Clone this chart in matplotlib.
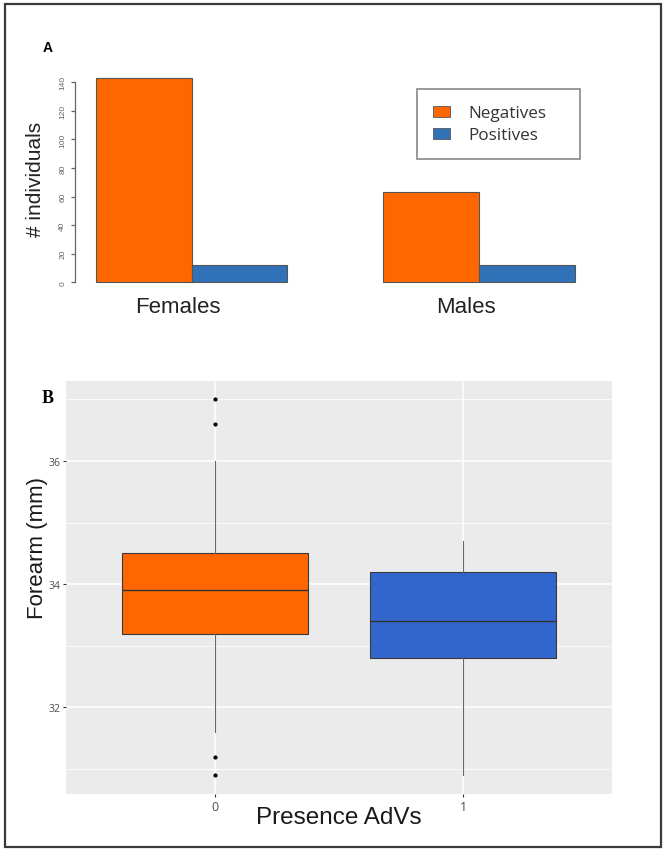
import numpy as np
import matplotlib
matplotlib.use("Agg")
import matplotlib.pyplot as plt
from matplotlib.patches import Rectangle, Patch

# ---------------- data ----------------
groups = ["Females", "Males"]
negatives = [143, 63]
positives = [12, 12]
series_labels = ["Negatives", "Positives"]

adv_levels = ["0", "1"]
box_q1 = [33.2, 32.8]
box_med = [33.9, 33.4]
box_q3 = [34.5, 34.2]
box_whislo = [31.6, 30.9]
box_whishi = [36.0, 34.7]
box_fliers = [[37.0, 36.6, 31.2, 30.9], []]

top_yticks = [0, 20, 40, 60, 80, 100, 120, 140]
bot_yticks = [32, 34, 36]
bot_yminor = [31, 33, 35, 37]

# ---------------- styles ----------------
ORANGE = "#FF6600"
BLUE_TOP = "#2F72B8"
BLUE_BOT = "#3366CC"
W, H = 666, 853
DPI = 100

fig = plt.figure(figsize=(W / DPI, H / DPI), dpi=DPI)
fig.patch.set_facecolor("white")

def fx(px):
    return px / W

def fy(py):
    return 1 - py / H

# outer frame
fig.patches.append(Rectangle((fx(4.5), fy(848)), fx(661) - fx(4.5), fy(4.5) - fy(848),
                             transform=fig.transFigure, fill=False,
                             edgecolor="#3a3a3a", linewidth=1.6, zorder=10))

# ---------------- panel A ----------------
axA = fig.add_axes([fx(76.9), fy(291.5), fx(593.7) - fx(76.9), fy(70.8) - fy(291.5)])
left = np.arange(len(groups)) * 3 + 1
axA.bar(left, negatives, width=1, align="edge", color=ORANGE,
        edgecolor="#555555", linewidth=0.8, label=series_labels[0])
axA.bar(left + 1, positives, width=1, align="edge", color=BLUE_TOP,
        edgecolor="#555555", linewidth=0.8, label=series_labels[1])
axA.set_xlim(0.8, 6.2)
axA.set_ylim(-5.72, 148.72)
for s in ["top", "right", "bottom"]:
    axA.spines[s].set_visible(False)
axA.spines["left"].set_bounds(0, 140)
axA.spines["left"].set_position(("outward", 1.5))
axA.spines["left"].set_color("#666666")
axA.spines["left"].set_linewidth(0.9)
axA.set_yticks(top_yticks)
axA.set_yticklabels([str(v) for v in top_yticks], rotation=90, va="center",
                    fontsize=6, color="#666666", family="Liberation Sans")
axA.tick_params(axis="y", length=3.2, width=0.9, color="#666666", pad=3)
axA.set_xticks(left + 0.86)
axA.set_xticklabels(groups, fontsize=16, family="Liberation Sans", color="#222222")
axA.tick_params(axis="x", length=0, pad=4)
axA.set_ylabel("# individuals", fontsize=15, family="Liberation Sans", va="center",
               color="#222222")
axA.yaxis.set_label_coords(-0.081, 0.51)

handles = [Patch(facecolor=ORANGE, edgecolor="#555555", linewidth=0.6),
           Patch(facecolor=BLUE_TOP, edgecolor="#555555", linewidth=0.6)]
leg = axA.legend(handles, series_labels, loc="upper left",
                 bbox_to_anchor=(fx(416.7), fy(154.3), fx(580) - fx(416.7), fy(90) - fy(154.3)),
                 bbox_transform=fig.transFigure, mode="expand", borderaxespad=0,
                 prop={"family": "Open Sans", "size": 12.3},
                 handlelength=1.0, handleheight=0.62, handletextpad=1.05,
                 borderpad=0.95, labelspacing=0.35, fancybox=False,
                 edgecolor="#888888", framealpha=1)
leg.get_frame().set_linewidth(1.2)
for t in leg.get_texts():
    t.set_color("#333333")

fig.text(fx(47.5), fy(48), "A", fontsize=10, fontweight="bold",
         family="Liberation Sans", ha="center", va="center")

# ---------------- panel B ----------------
axB = fig.add_axes([fx(66), fy(795), fx(612) - fx(66), fy(381.7) - fy(795)])
axB.set_facecolor("#EBEBEB")
stats = []
for i in range(len(adv_levels)):
    stats.append(dict(med=box_med[i], q1=box_q1[i], q3=box_q3[i],
                      whislo=box_whislo[i], whishi=box_whishi[i],
                      fliers=box_fliers[i], label=adv_levels[i]))
bp = axB.bxp(stats, positions=np.arange(1, len(adv_levels) + 1), widths=0.75,
             patch_artist=True, showcaps=False,
             boxprops=dict(edgecolor="#3a3a3a", linewidth=0.8),
             medianprops=dict(color="#333333", linewidth=1.0),
             whiskerprops=dict(color="#666666", linewidth=0.8),
             flierprops=dict(marker="o", markersize=2.0, markerfacecolor="black",
                             markeredgecolor="black"),
             zorder=3)
for patch, c in zip(bp["boxes"], [ORANGE, BLUE_BOT]):
    patch.set_facecolor(c)

axB.set_xlim(0.4, 2.6)
axB.set_ylim(30.595, 37.305)
axB.set_yticks(bot_yticks)
axB.set_yticks(bot_yminor, minor=True)
axB.set_yticklabels([str(v) for v in bot_yticks], fontsize=7.5, color="#4D4D4D",
                    family="Open Sans")
axB.set_xticks([1, 2])
axB.set_xticklabels(adv_levels, fontsize=9, color="#4D4D4D", family="Open Sans")
axB.tick_params(axis="both", which="major", length=2.2, width=0.8, color="#333333", pad=2)
axB.tick_params(axis="y", which="minor", length=0)
axB.grid(True, which="major", color="white", linewidth=1.1, zorder=0)
axB.grid(True, which="minor", axis="y", color="white", linewidth=0.55, zorder=0)
axB.set_axisbelow(True)
for s in axB.spines.values():
    s.set_visible(False)
axB.set_ylabel("Forearm (mm)", fontsize=16, family="Liberation Sans", va="center",
               color="#1a1a1a")
axB.yaxis.set_label_coords(-0.053, 0.597)
axB.set_xlabel("Presence AdVs", fontsize=17.5, family="Liberation Sans", va="center",
               color="#1a1a1a")
axB.xaxis.set_label_coords(0.5, -0.0556)

fig.text(fx(47.5), fy(399), "B", fontsize=13, fontweight="bold",
         family="Liberation Serif", ha="center", va="center")

fig.savefig("out.png", dpi=DPI)
